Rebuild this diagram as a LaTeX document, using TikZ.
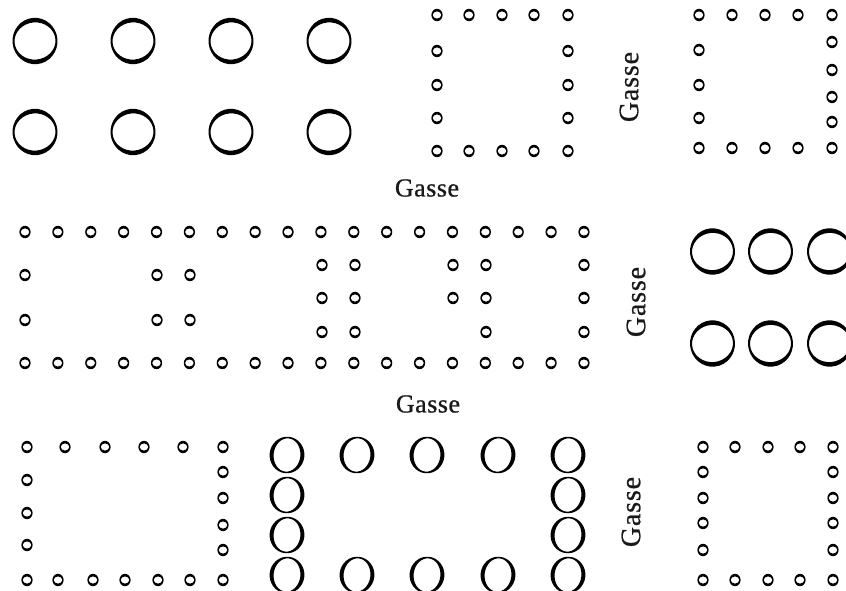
\documentclass[tikz,border=0pt]{standalone}
\usepackage{fontspec}
\setmainfont{Liberation Serif}
\newfontfamily\hfont[LetterSpace=2,FakeBold=0.8]{Liberation Serif}
\newfontfamily\vfont[LetterSpace=3,FakeBold=0.8]{Liberation Serif}
\newcommand\bigring[2]{\fill[ink,even odd rule,shift={(#1,#2)},rotate=5] (0,0) ellipse [x radius=22.5pt,y radius=23.2pt] (0,0) ellipse [x radius=20.5pt,y radius=18.6pt];}
\newcommand\dotring[2]{\fill[ink,even odd rule,shift={(#1,#2)}] (0,0) ellipse [x radius=5.6pt,y radius=6.2pt] (0,0) ellipse [x radius=4.3pt,y radius=3.6pt];}
\newcommand\tallring[2]{\fill[ink,even odd rule,shift={(#1,#2)},rotate=-6] (0,0) ellipse [x radius=17.4pt,y radius=18.3pt] (0,0) ellipse [x radius=13.4pt,y radius=16.7pt];}
\begin{document}
\begin{tikzpicture}[x=1pt,y=-1pt,
  ink/.style={fill=black},
  hlbl/.style={font=\hfont\fontsize{26}{26}\selectfont, text=black!90, inner sep=0pt},
  vlbl/.style={font=\vfont\fontsize{28}{28}\selectfont, text=black!90, inner sep=0pt, rotate=90}]
\useasboundingbox (0,0) rectangle (846,591);
\fill[white] (0,0) rectangle (846,591);
\clip (0,0) rectangle (846,591);
% top-left big rings
\foreach \x in {35,133,231,329} \foreach \y in {41,132} {\bigring{\x}{\y}}
% top box 1
\foreach \x in {437,469,502,534,568} {\dotring{\x}{15}\dotring{\x}{151}}
\foreach \y in {51,85,118} {\dotring{437}{\y}\dotring{568}{\y}}
% top box 2
\foreach \x in {699,732,765,798,832} {\dotring{\x}{15}\dotring{\x}{148}}
\foreach \y in {50,85,118} {\dotring{699}{\y}}
\foreach \y in {42,70,97,122} {\dotring{832}{\y}}
% middle grid
\foreach \i in {0,...,17} {\dotring{25+\i*32.88}{232}\dotring{25+\i*32.88}{363}}
\foreach \y in {275,320} {\dotring{25}{\y}\dotring{157}{\y}\dotring{190}{\y}}
\foreach \y in {265,298,332} {\dotring{322}{\y}\dotring{355}{\y}\dotring{486}{\y}\dotring{584}{\y}}
\foreach \y in {265,298} {\dotring{453}{\y}}
% right big rings
\foreach \x in {712.5,770.5,829.5} \foreach \y in {251.5,343.5} {\bigring{\x}{\y}}
% bottom-left box
\foreach \x in {27,65,105,144,183,223} {\dotring{\x}{447}}
\foreach \x in {27,58,93,125,158,190,223} {\dotring{\x}{580}}
\foreach \y in {480,513,545} {\dotring{27}{\y}}
\foreach \y in {472,498,525,550} {\dotring{223}{\y}}
% bottom O rings
\foreach \y in {455,495,535,575} {\tallring{287}{\y}\tallring{568}{\y}}
\foreach \x in {357,427,498} {\tallring{\x}{455}\tallring{\x}{575}}
% bottom-right box
\foreach \x in {703,735,768,800,833} {\dotring{\x}{447}\dotring{\x}{580}}
\foreach \y in {472,498,523,550} {\dotring{703}{\y}\dotring{833}{\y}}
% labels
\node[hlbl] (g1) at (427,188) {Gasse};
\node[hlbl] (g3) at (428,404) {Gasse};
\node[vlbl] (g2) at (629,87) {Gasse};
\node[vlbl] (g4) at (636,302) {Gasse};
\node[vlbl] (g5) at (631,512) {Gasse};
\end{tikzpicture}
\end{document}
